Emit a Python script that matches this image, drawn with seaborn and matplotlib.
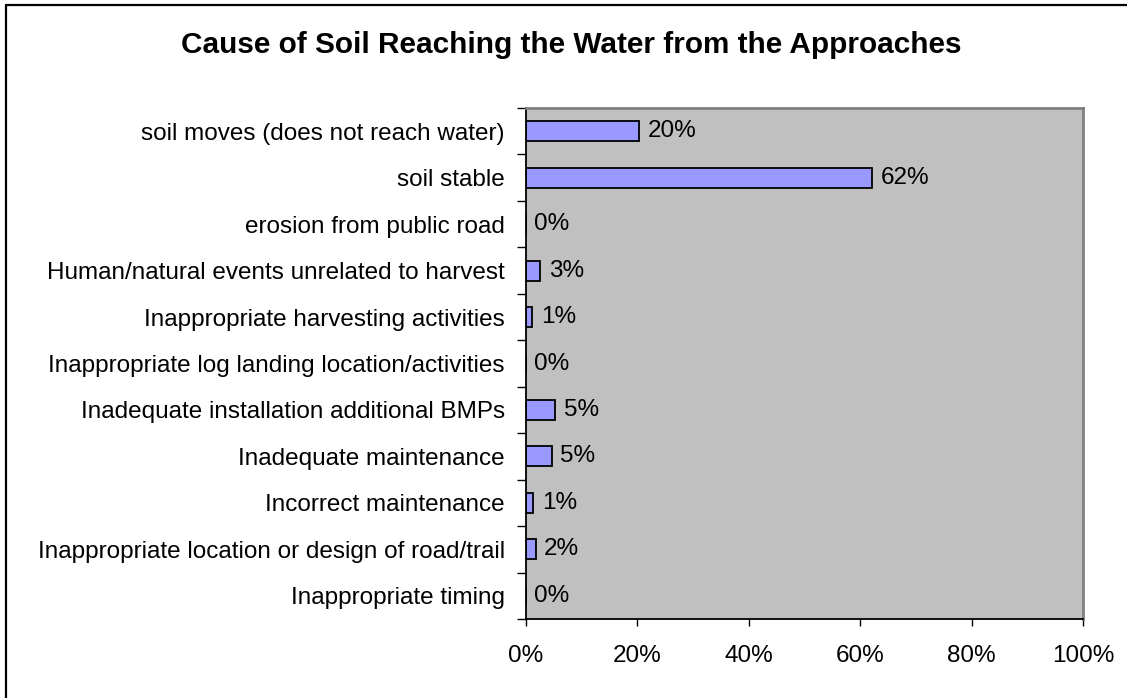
import matplotlib
matplotlib.use("Agg")
import matplotlib.pyplot as plt
import seaborn as sns
import pandas as pd
from matplotlib.lines import Line2D
from matplotlib.ticker import FixedLocator, FuncFormatter

categories = [
    "soil moves (does not reach water)",
    "soil stable",
    "erosion from public road",
    "Human/natural events unrelated to harvest",
    "Inappropriate harvesting activities",
    "Inappropriate log landing location/activities",
    "Inadequate installation additional BMPs",
    "Inadequate maintenance",
    "Incorrect maintenance",
    "Inappropriate location or design of road/trail",
    "Inappropriate timing",
]
values = [20.4, 62.2, 0.0, 2.6, 1.2, 0.0, 5.3, 4.7, 1.4, 1.8, 0.0]
x_ticks = [0, 20, 40, 60, 80, 100]
title = "Cause of Soil Reaching the Water from the Approaches"

sns.set_theme(style="white")
plt.rcParams["font.family"] = ["Liberation Sans", "DejaVu Sans"]
plt.rcParams["text.color"] = "black"
plt.rcParams["xtick.color"] = "black"
plt.rcParams["ytick.color"] = "black"
plt.rcParams["xtick.labelcolor"] = "black"
plt.rcParams["ytick.labelcolor"] = "black"

df = pd.DataFrame({"cause": categories, "pct": values})

W, H = 1127, 698
fig = plt.figure(figsize=(W / 100, H / 100), dpi=100)
fig.patch.set_facecolor("white")
ax = fig.add_axes([525.5 / W, 1 - 619 / H, (1083 - 525.5) / W, (619 - 108) / H])

sns.barplot(data=df, y="cause", x="pct", orient="h", color="#9999FF",
            saturation=1, width=0.43, edgecolor="black", linewidth=1.3, ax=ax)

ax.set_facecolor("#C0C0C0")
ax.set_xlim(0, 100)
ax.set_ylim(len(categories) - 0.5, -0.5)
ax.set_xlabel("")
ax.set_ylabel("")

ax.xaxis.set_major_locator(FixedLocator(x_ticks))
ax.xaxis.set_major_formatter(FuncFormatter(lambda v, p: f"{v:.0f}%"))
ax.tick_params(axis="x", which="major", length=5.2, width=1, color="black",
               labelcolor="black", direction="out", labelsize=17.5, pad=13.5,
               bottom=True)

ax.set_yticks(range(len(categories)))
ax.set_yticklabels(categories)
ax.tick_params(axis="y", which="major", length=0, labelsize=17.5, pad=15,
               labelcolor="black")
ax.yaxis.set_minor_locator(FixedLocator([i - 0.5 for i in range(len(categories) + 1)]))
ax.tick_params(axis="y", which="minor", length=6.5, width=1, color="black",
               direction="out", left=True)

for s in ["left", "bottom"]:
    ax.spines[s].set_color("black")
    ax.spines[s].set_linewidth(1.3)
for s in ["top", "right"]:
    ax.spines[s].set_color("#808080")
    ax.spines[s].set_linewidth(2)

for i, v in enumerate(values):
    ax.annotate(f"{v:.0f}%", xy=(v, i), xytext=(6.2, 0), textcoords="offset points",
                ha="left", va="center", fontsize=17.5, color="black")

fig.text(571.5 / W, 1 - 45 / H, title, ha="center", va="center",
         fontsize=21.4, fontweight="bold", color="black")

# outer chart border (left and top visible)
fig.add_artist(Line2D([6 / W, 6 / W], [0, 1 - 5 / H], transform=fig.transFigure,
                      color="black", linewidth=1.6))
fig.add_artist(Line2D([6 / W, 1], [1 - 5 / H, 1 - 5 / H], transform=fig.transFigure,
                      color="black", linewidth=1.6))

fig.savefig("out.png", dpi=100)
